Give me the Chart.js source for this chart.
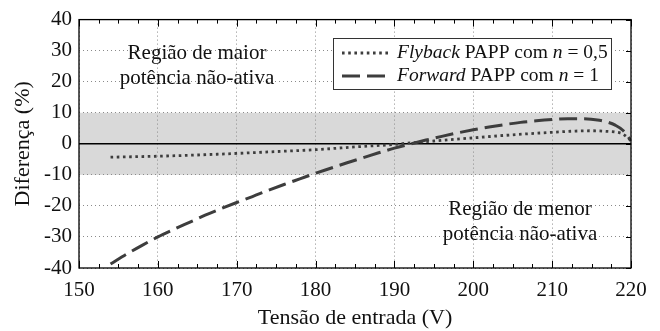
<!DOCTYPE html>
<html><head><meta charset="utf-8">
<script src="https://cdn.jsdelivr.net/npm/chart.js@4/dist/chart.umd.min.js"></script>
<style>html,body{margin:0;padding:0;background:#fff}#wrap{width:660px;height:331px}</style>
</head><body><div id="wrap"><canvas id="c" width="660" height="331"></canvas></div>
<script>
const flybackV = [154,156,158,160,165,170,175,180,185,190,192,195,200,205,210,213,215,217,218,219,220];
const flybackD = [-4.3,-4.2,-4.1,-4.0,-3.6,-3.1,-2.5,-1.9,-1.0,-0.2,0.3,0.9,1.9,2.9,3.7,4.1,4.2,4.0,3.8,3.1,1.0];
const forwardV = [154,156,158,160,162,164,166,168,170,172,174,176,178,180,182,184,186,188,190,192,194,196,198,200,202,204,206,208,210,212,214,216,217,218,219,220];
const forwardD = [-38.7,-35.6,-32.7,-30.0,-27.6,-25.3,-23.0,-20.9,-18.9,-17.0,-15.0,-13.1,-11.3,-9.5,-7.8,-6.1,-4.5,-2.9,-1.4,-0.1,1.2,2.4,3.5,4.5,5.4,6.2,6.9,7.4,7.8,8.1,8.1,7.6,7.0,6.0,4.3,1.0];
const xTicks = [150,160,170,180,190,200,210,220];
const yTicks = [-40,-30,-20,-10,0,10,20,30,40];
const bandRange = [-10, 10];
const seriesNames = ['Flyback', 'Forward'];
const legendRest = [' PAPP com ', ' PAPP com '];
const legendN = [' = 0,5', ' = 1'];
const regionUpper = ['Região de maior', 'potência não-ativa'];
const regionLower = ['Região de menor', 'potência não-ativa'];
const xTitle = 'Tensão de entrada (V)';
const yTitle = 'Diferença (%)';

const SERIF = '"Liberation Serif", "Times New Roman", serif';
const LINE = '#3d3d3d';

const bandPlugin = {
  id: 'band',
  beforeDraw(chart) {
    const {ctx, chartArea: a, scales: {y}} = chart;
    ctx.save();
    ctx.fillStyle = '#d9d9d9';
    const t = y.getPixelForValue(bandRange[1]), b = y.getPixelForValue(bandRange[0]);
    ctx.fillRect(a.left, t, a.right - a.left, b - t);
    ctx.restore();
  },
  beforeDatasetsDraw(chart) {
    const {ctx, chartArea: a, scales: {y}} = chart;
    ctx.save();
    ctx.strokeStyle = '#000'; ctx.lineWidth = 1.6;
    const z = y.getPixelForValue(0);
    ctx.beginPath(); ctx.moveTo(a.left, z); ctx.lineTo(a.right, z); ctx.stroke();
    ctx.restore();
  },
  afterDatasetsDraw(chart) {
    const {ctx, chartArea: a, scales: {x, y}} = chart;
    ctx.save();
    ctx.strokeStyle = '#000'; ctx.lineWidth = 1.3;
    ctx.strokeRect(a.left, a.top, a.right - a.left, a.bottom - a.top);
    ctx.lineWidth = 1;
    for (let v = 150; v <= 220.001; v += 2.5) {
      const px = Math.round(x.getPixelForValue(v)) + 0.5;
      const major = Math.abs(v % 10) < 0.01;
      const L = major ? 7 : 4;
      ctx.beginPath();
      ctx.moveTo(px, a.bottom); ctx.lineTo(px, a.bottom - L);
      ctx.moveTo(px, a.top); ctx.lineTo(px, a.top + L);
      ctx.stroke();
    }
    yTicks.forEach(v => {
      const py = Math.round(y.getPixelForValue(v)) + 0.5;
      ctx.beginPath(); ctx.moveTo(a.right, py); ctx.lineTo(a.right - 5, py); ctx.stroke();
    });
    ctx.fillStyle = '#111';
    ctx.font = '21px ' + SERIF;
    ctx.textAlign = 'center'; ctx.textBaseline = 'middle';
    ctx.fillText(regionUpper[0], 197, 53);
    ctx.fillText(regionUpper[1], 197, 78);
    ctx.fillText(regionLower[0], 520, 209);
    ctx.fillText(regionLower[1], 520, 234);
    const bx = 333, by = 38, bw = 278, bh = 51;
    ctx.fillStyle = '#fff';
    ctx.fillRect(bx, by, bw, bh);
    ctx.strokeStyle = '#333'; ctx.lineWidth = 1;
    ctx.strokeRect(bx + 0.5, by + 0.5, bw, bh);
    const rows = [53, 76];
    chart.data.datasets.forEach((ds, i) => {
      const ry = rows[i];
      ctx.save();
      ctx.strokeStyle = ds.borderColor; ctx.lineWidth = ds.borderWidth;
      ctx.setLineDash(ds.borderDash);
      ctx.beginPath(); ctx.moveTo(342, ry); ctx.lineTo(390, ry); ctx.stroke();
      ctx.restore();
      ctx.fillStyle = '#111'; ctx.textAlign = 'left'; ctx.textBaseline = 'middle';
      let tx = 397;
      const parts = [[seriesNames[i], true], [legendRest[i], false], ['n', true], [legendN[i], false]];
      parts.forEach(([s, it]) => {
        ctx.font = (it ? 'italic ' : '') + '19.5px ' + SERIF;
        ctx.fillText(s, tx, ry);
        tx += ctx.measureText(s).width;
      });
    });
    ctx.restore();
  }
};

const toPts = (xs, ys) => xs.map((v, i) => ({x: v, y: ys[i]}));

new Chart(document.getElementById('c'), {
  type: 'line',
  data: {
    datasets: [
      {label: 'Flyback PAPP com n = 0,5', data: toPts(flybackV, flybackD), borderColor: LINE, borderWidth: 2.8, borderDash: [2.6, 3.6], pointRadius: 0, fill: false, cubicInterpolationMode: 'monotone', borderCapStyle: 'butt'},
      {label: 'Forward PAPP com n = 1', data: toPts(forwardV, forwardD), borderColor: LINE, borderWidth: 3, borderDash: [18, 7], pointRadius: 0, fill: false, cubicInterpolationMode: 'monotone', borderCapStyle: 'butt'}
    ]
  },
  options: {
    responsive: false, animation: false, devicePixelRatio: 1,
    layout: {padding: {left: 0, right: 29, top: 18, bottom: 0}},
    plugins: {legend: {display: false}, tooltip: {enabled: false}},
    scales: {
      x: {
        type: 'linear', min: 150, max: 220,
        afterBuildTicks(s) { s.ticks = xTicks.map(v => ({value: v})); },
        afterFit(s) { s.height = 63; },
        grid: {color: '#8a8a8a', lineWidth: 1, drawTicks: false},
        border: {display: false, dash: [1, 3]},
        ticks: {color: '#111', font: {family: SERIF, size: 21}, padding: 10, maxRotation: 0},
        title: {display: true, text: xTitle, color: '#111', font: {family: SERIF, size: 22}, padding: {top: 0, bottom: 0}}
      },
      y: {
        type: 'linear', min: -40, max: 40,
        afterBuildTicks(s) { s.ticks = yTicks.map(v => ({value: v})); },
        afterFit(s) { s.width = 79; },
        grid: {color: '#8a8a8a', lineWidth: 1, drawTicks: false},
        border: {display: false, dash: [1, 3]},
        ticks: {color: '#111', font: {family: SERIF, size: 21}, padding: 7},
        title: {display: true, text: yTitle, color: '#111', font: {family: SERIF, size: 22}, padding: {top: 10, bottom: 0}}
      }
    }
  },
  plugins: [bandPlugin]
});
</script>
</body></html>
